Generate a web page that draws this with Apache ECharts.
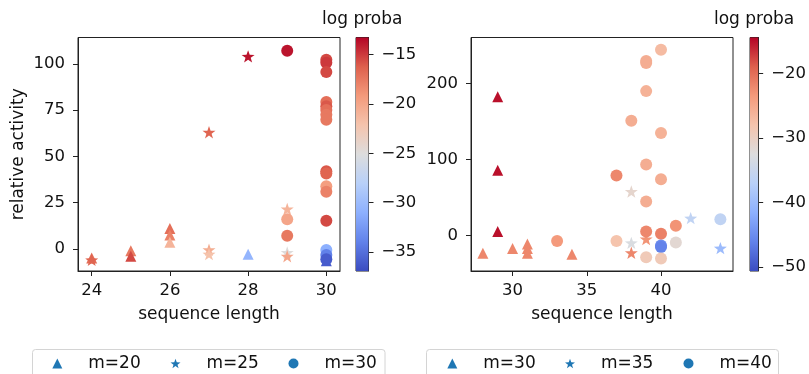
<!DOCTYPE html>
<html><head><meta charset="utf-8">
<script src="https://cdn.jsdelivr.net/npm/echarts@6/dist/echarts.min.js"></script>
<style>html,body{margin:0;padding:0;background:#fff}#c{width:809px;height:374px}</style>
</head><body><div id="c"></div>
<script>
// ---------- data: left panel ----------
const leftNames = ['m=20', 'm=25', 'm=30'];
const leftLen20 = [24, 25, 25, 26, 26, 26, 28, 30];
const leftAct20 = [-5, -1, -4, 11, 7.5, 3.5, -2.9, -6.5];
const leftLp20  = [-17, -17.5, -15.5, -17, -18, -21, -30.5, -36];
const leftLen25 = [24, 27, 27, 27, 28, 29, 29, 29];
const leftAct25 = [-6, 63, -0.5, -2.9, 104, 21.5, -2, -4];
const leftLp25  = [-16.5, -16.5, -20.5, -22, -13.8, -21, -25, -20];
const leftLen30 = [29, 29, 29, 30, 30, 30, 30, 30, 30, 30, 30, 30, 30, 30, 30, 30, 30, 30, 30];
const leftAct30 = [107, 16, 7, 102.2, 100.6, 95.5, 79.3, 77, 75, 72.5, 69.8, 41.9, 40.7, 33.8, 30.8, 15.1, -0.7, -3.4, -5.7];
const leftLp30  = [-13.8, -20, -17.5, -15.5, -15, -15.5, -17, -16, -17, -17.5, -17.5, -16, -16.5, -19.5, -18, -15.5, -31, -34, -36];
// ---------- data: right panel ----------
const rightNames = ['m=30', 'm=35', 'm=40'];
const rightLen30 = [28, 29, 29, 29, 30, 31, 31, 31, 34];
const rightAct30 = [-23, 182.5, 86, 5.5, -17, -11, -17, -23, -24.5];
const rightLp30  = [-22, -15, -15, -15, -22, -22, -22, -22, -22];
const rightLen35 = [38, 38, 38, 39, 42, 44];
const rightAct35 = [58, -9.5, -22.5, -4.5, 23, -16.5];
const rightLp35  = [-31, -33, -22, -23, -36, -40];
const rightLen40 = [33, 37, 37, 38, 39, 39, 39, 39, 39, 39, 39, 40, 40, 40, 40, 40, 40, 40, 41, 41, 44];
const rightAct40 = [-7, 79, -7, 151, 229.5, 227, 190, 93.5, 45, 5.5, -28.5, 244.5, 135, 74, 2.5, -13, -15, -30, 13, -9, 21.5];
const rightLp40  = [-23.5, -22, -28, -25.5, -25.5, -25.5, -26, -25.5, -25.5, -22, -29, -27, -26, -25.5, -21.5, -45, -46, -29, -23, -31.5, -36];
// ---------- axes / ticks ----------
const leftXTicks = [24, 26, 28, 30];
const leftYTicks = [0, 25, 50, 75, 100];
const rightXTicks = [30, 35, 40];
const rightYTicks = [0, 100, 200];
const leftCbTicks = [-35, -30, -25, -20, -15];
const rightCbTicks = [-50, -40, -30, -20];
const leftXRange = [23.65, 30.35], leftYRange = [-12, 114.2], leftCbRange = [-36.9, -13.3];
const rightXRange = [27.2, 44.85], rightYRange = [-46.5, 260.5], rightCbRange = [-50.6, -14.4];

const FONT = 'DejaVu Sans';
const TXT = '#111';
const LINE = '#222';
const coolwarm = ['#3b4cc0', '#6282ea', '#8db0fe', '#b8d0f9', '#dddddd', '#f5c4ad', '#f49a7b', '#de604d', '#b40426'];
const STAR = 'path://M0,-10 L2.35,-3.24 9.51,-3.09 3.8,1.24 5.88,8.09 0,4 -5.88,8.09 -3.8,1.24 -9.51,-3.09 -2.35,-3.24Z';
const icons = ['triangle', STAR, 'circle'];
const sizes = [11, 13, 12];

function zip(a, b, c) { return a.map((v, i) => [v, b[i], c[i]]); }
const minus = v => String(v).replace('-', '\u2212');

function axis(gridIndex, range, ticks, margin, extra) {
  return Object.assign({
    type: 'value', gridIndex, min: range[0], max: range[1],
    splitLine: { show: false },
    axisLine: { show: true, onZero: false, lineStyle: { color: LINE, width: 1 } },
    axisTick: { show: true, length: 5, customValues: ticks, lineStyle: { color: LINE, width: 1 } },
    axisLabel: { customValues: ticks, fontSize: 16.5, color: TXT, fontFamily: FONT, margin, formatter: minus },
    nameTextStyle: { fontSize: 17, color: TXT, fontFamily: FONT }
  }, extra);
}

const grids = [
  { left: 78, top: 37.5, width: 262, height: 233.5, show: true, borderColor: LINE, borderWidth: 1 },
  { left: 356, top: 37.5, width: 12.5, height: 233.5, show: true, borderColor: LINE, borderWidth: 1 },
  { left: 471, top: 37.5, width: 262, height: 233.5, show: true, borderColor: LINE, borderWidth: 1 },
  { left: 750, top: 37.5, width: 12, height: 233.5, show: true, borderColor: LINE, borderWidth: 1 }
];

function cbX(gi) {
  return { type: 'value', gridIndex: gi, min: 0, max: 1, position: 'top',
    axisLine: { show: false }, axisTick: { show: false }, axisLabel: { show: false }, splitLine: { show: false },
    name: 'log proba', nameLocation: 'middle', nameGap: 9,
    nameTextStyle: { fontSize: 17, color: TXT, fontFamily: FONT } };
}

const xAxes = [
  axis(0, leftXRange, leftXTicks, 11, { name: 'sequence length', nameLocation: 'middle', nameGap: 35 }),
  cbX(1),
  axis(2, rightXRange, rightXTicks, 11, { name: 'sequence length', nameLocation: 'middle', nameGap: 35 }),
  cbX(3)
];
const yAxes = [
  axis(0, leftYRange, leftYTicks, 13, { name: 'relative activity', nameLocation: 'middle', nameGap: 51 }),
  axis(1, leftCbRange, leftCbTicks, 13, { position: 'right' }),
  axis(2, rightYRange, rightYTicks, 13, {}),
  axis(3, rightCbRange, rightCbTicks, 13, { position: 'right' })
];

function scatter(name, gi, data, k) {
  return { type: 'scatter', name, xAxisIndex: gi, yAxisIndex: gi, data, symbol: icons[k], symbolSize: sizes[k],
    symbolKeepAspect: true, itemStyle: { opacity: 1 }, emphasis: { disabled: true } };
}
function colorbar(gi, range) {
  const stops = coolwarm.slice().reverse().map((c, i, a) => ({ offset: i / (a.length - 1), color: c }));
  return { type: 'custom', xAxisIndex: gi, yAxisIndex: gi, silent: true, data: [[0, range[0], range[1]]],
    renderItem: (params, api) => {
      const p0 = api.coord([0, api.value(2)]);
      const p1 = api.coord([1, api.value(1)]);
      return { type: 'rect', shape: { x: p0[0], y: p0[1], width: p1[0] - p0[0], height: p1[1] - p0[1] },
        style: { fill: new echarts.graphic.LinearGradient(0, 0, 0, 1, stops) } };
    } };
}

const rightSeriesNames = rightNames.map(n => n + ' ');
const series = [
  scatter(leftNames[0], 0, zip(leftLen20, leftAct20, leftLp20), 0),
  scatter(leftNames[1], 0, zip(leftLen25, leftAct25, leftLp25), 1),
  scatter(leftNames[2], 0, zip(leftLen30, leftAct30, leftLp30), 2),
  colorbar(1, leftCbRange),
  scatter(rightSeriesNames[0], 2, zip(rightLen30, rightAct30, rightLp30), 0),
  scatter(rightSeriesNames[1], 2, zip(rightLen35, rightAct35, rightLp35), 1),
  scatter(rightSeriesNames[2], 2, zip(rightLen40, rightAct40, rightLp40), 2),
  colorbar(3, rightCbRange)
];

// one legend component per entry so each icon/text sits where the reference has it
const leftIconCenters = [57.3, 175.5, 293.5];
const rightIconCenters = [452.3, 570, 688.5];
function legendItem(name, k, cx) {
  return { data: [{ name, icon: icons[k], itemStyle: { color: '#1f77b4' } }],
    left: cx - 5, top: 355, itemWidth: 10, itemHeight: 10, padding: 0, selectedMode: false,
    formatter: n => n.trim(),
    textStyle: { fontSize: 17, color: TXT, fontFamily: FONT, padding: [0, 0, 0, 21] } };
}
const legends = [];
leftNames.forEach((n, k) => legends.push(legendItem(n, k, leftIconCenters[k])));
rightSeriesNames.forEach((n, k) => legends.push(legendItem(n, k, rightIconCenters[k])));

const option = {
  animation: false,
  backgroundColor: '#fff',
  textStyle: { fontFamily: FONT },
  grid: grids, xAxis: xAxes, yAxis: yAxes, series,
  visualMap: [
    { type: 'continuous', show: false, dimension: 2, seriesIndex: [0, 1, 2], min: leftCbRange[0], max: leftCbRange[1], inRange: { color: coolwarm } },
    { type: 'continuous', show: false, dimension: 2, seriesIndex: [4, 5, 6], min: rightCbRange[0], max: rightCbRange[1], inRange: { color: coolwarm } }
  ],
  legend: legends,
  graphic: [
    { type: 'rect', z: -10, silent: true, shape: { x: 32.5, y: 349.5, width: 352.5, height: 40, r: 3 }, style: { fill: '#fff', stroke: '#d4d4d4', lineWidth: 1 } },
    { type: 'rect', z: -10, silent: true, shape: { x: 426.5, y: 349.5, width: 352, height: 40, r: 3 }, style: { fill: '#fff', stroke: '#d4d4d4', lineWidth: 1 } }
  ]
};
const chart = echarts.init(document.getElementById('c'), null, { renderer: 'canvas' });
chart.setOption(option);
</script></body></html>
